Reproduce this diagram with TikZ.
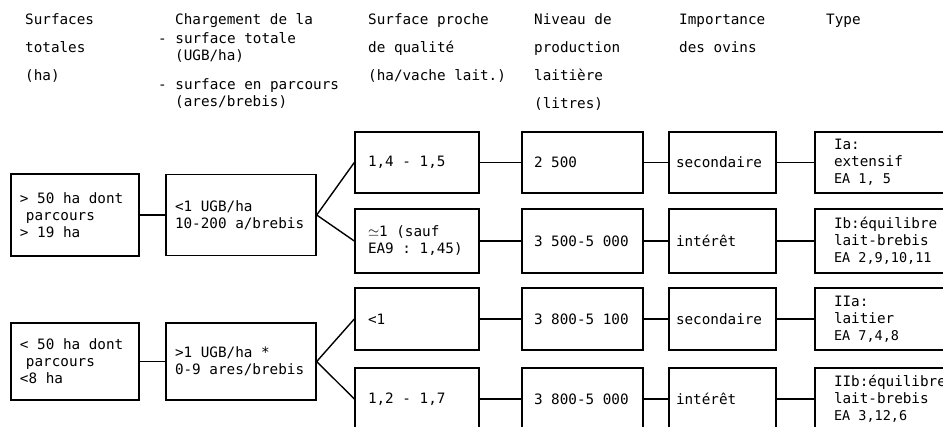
\documentclass[tikz,border=0pt]{standalone}
\usepackage{fontspec}
\setmonofont{DejaVu Sans Mono}
\usepackage{xcolor}
\newcommand{\eanum}[1]{{\fontsize{13.5bp}{17bp}\selectfont #1}}

\begin{document}
\begin{tikzpicture}[x=1bp,y=-1bp,
		font=\ttfamily\fontsize{14.3bp}{17bp}\selectfont,
		head/.style={anchor=base west,inner sep=0pt},
		box/.style={draw,line width=1.4bp,rectangle,align=flush left,inner ysep=0pt},
		colA/.style={box,text width=110bp,inner xsep=9bp},
		colB/.style={box,text width=132bp,inner xsep=9bp},
		colC/.style={box,text width=98bp,inner xsep=13bp,minimum height=62bp},
		colD/.style={box,text width=97bp,inner xsep=12bp,minimum height=62bp},
		colE/.style={box,text width=93bp,inner xsep=7bp,minimum height=62bp},
		colF/.style={box,text width=120bp,inner xsep=19bp,minimum height=62bp},
		link/.style={line width=1.4bp}]
	
	% Parameters
	\def\xA{75}
	\def\xB{241}
	\def\xC{417}
	\def\xD{582.5}
	\def\xE{722.5}
	\def\xF{894}
	\def\rowone{162.5}
	\def\rowtwo{241}
	\def\rowthree{319}
	\def\rowfour{399}
	\useasboundingbox (0,0) rectangle (943,426);
	
	% column headings
	\foreach \x/\y/\txt [count=\i] in {
		25/24/{Surfaces}, 25/52/{totales}, 25/80/{(ha)},
		175/24/{Chargement de la}, 158/43/{- surface totale}, 175/60/{(UGB/ha)},
		158/89/{- surface en parcours}, 175/106/{(ares/brebis)},
		368/24/{Surface proche}, 368/52/{de qualité}, 368/80/{(ha/vache lait.)},
		534/24/{Niveau de}, 534/52/{production}, 534/80/{laitière}, 534/108/{(litres)},
		679/24/{Importance}, 679/52/{des ovins},
		826/24/{Type}} {
		\node[head] (h\i) at (\x,\y) {\txt};
	}
	
	% surfaces and stocking
	\node[colA,minimum height=82bp] (a1) at (\xA,215) {> 50 ha dont\\\hspace*{6bp}parcours\\> 19 ha};
	\node[colA,minimum height=77bp] (a2) at (\xA,361.5) {< 50 ha dont\\\hspace*{6bp}parcours\\<8 ha};
	\node[colB,minimum height=81bp] (b1) at (\xB,215) {<1 UGB/ha\\10-200 a/brebis};
	\node[colB,minimum height=77bp] (b2) at (\xB,361.5) {>1 UGB/ha *\\0-9 ares/brebis};
	
	% surface proche
	\node[colC,minimum height=61bp] (c1) at (\xC,\rowone) {1,4 - 1,5};
	\node[colC,minimum height=64bp] (c2) at (\xC,\rowtwo) {$\simeq$1 (sauf\\EA9 : 1,45)};
	\node[colC] (c3) at (\xC,\rowthree) {<1};
	\node[colC] (c4) at (\xC,\rowfour) {1,2 - 1,7};
	
	% production
	\node[colD,minimum height=61bp] (d1) at (\xD,\rowone) {2 500};
	\node[colD,minimum height=64bp] (d2) at (\xD,\rowtwo) {3 500-5 000};
	\node[colD] (d3) at (\xD,\rowthree) {3 800-5 100};
	\node[colD] (d4) at (\xD,\rowfour) {3 800-5 000};
	
	% ovins
	\node[colE,minimum height=61bp] (e1) at (\xE,\rowone) {secondaire};
	\node[colE,minimum height=64bp] (e2) at (\xE,\rowtwo) {intérêt};
	\node[colE] (e3) at (\xE,\rowthree) {secondaire};
	\node[colE] (e4) at (\xE,\rowfour) {intérêt};
	
	% types
	\node[colF,minimum height=61bp] (f1) at (\xF,\rowone) {Ia:\\extensif\\\eanum{EA 1, 5}};
	\node[colF,minimum height=64bp] (f2) at (\xF,\rowtwo) {Ib:équilibre\\lait-brebis\\\eanum{EA 2,9,10,11}};
	\node[colF] (f3) at (\xF,\rowthree) {IIa:\\laitier\\\eanum{EA 7,4,8}};
	\node[colF] (f4) at (\xF,\rowfour) {IIb:équilibre\\lait-brebis\\\eanum{EA 3,12,6}};
	
	% links
	\draw[link] (a1) -- (b1);
	\draw[link] (a2) -- (b2);
	\draw[link] (c1.west) -- (b1.east) -- (c2.west);
	\draw[link] (c3.west) -- (b2.east) -- (c4.west);
	\foreach \r in {1,...,4} {
		\draw[link] (c\r) -- (d\r);
		\draw[link] (d\r) -- (e\r);
		\draw[link] (e\r) -- (f\r);
	}
	
\end{tikzpicture}
\end{document}
